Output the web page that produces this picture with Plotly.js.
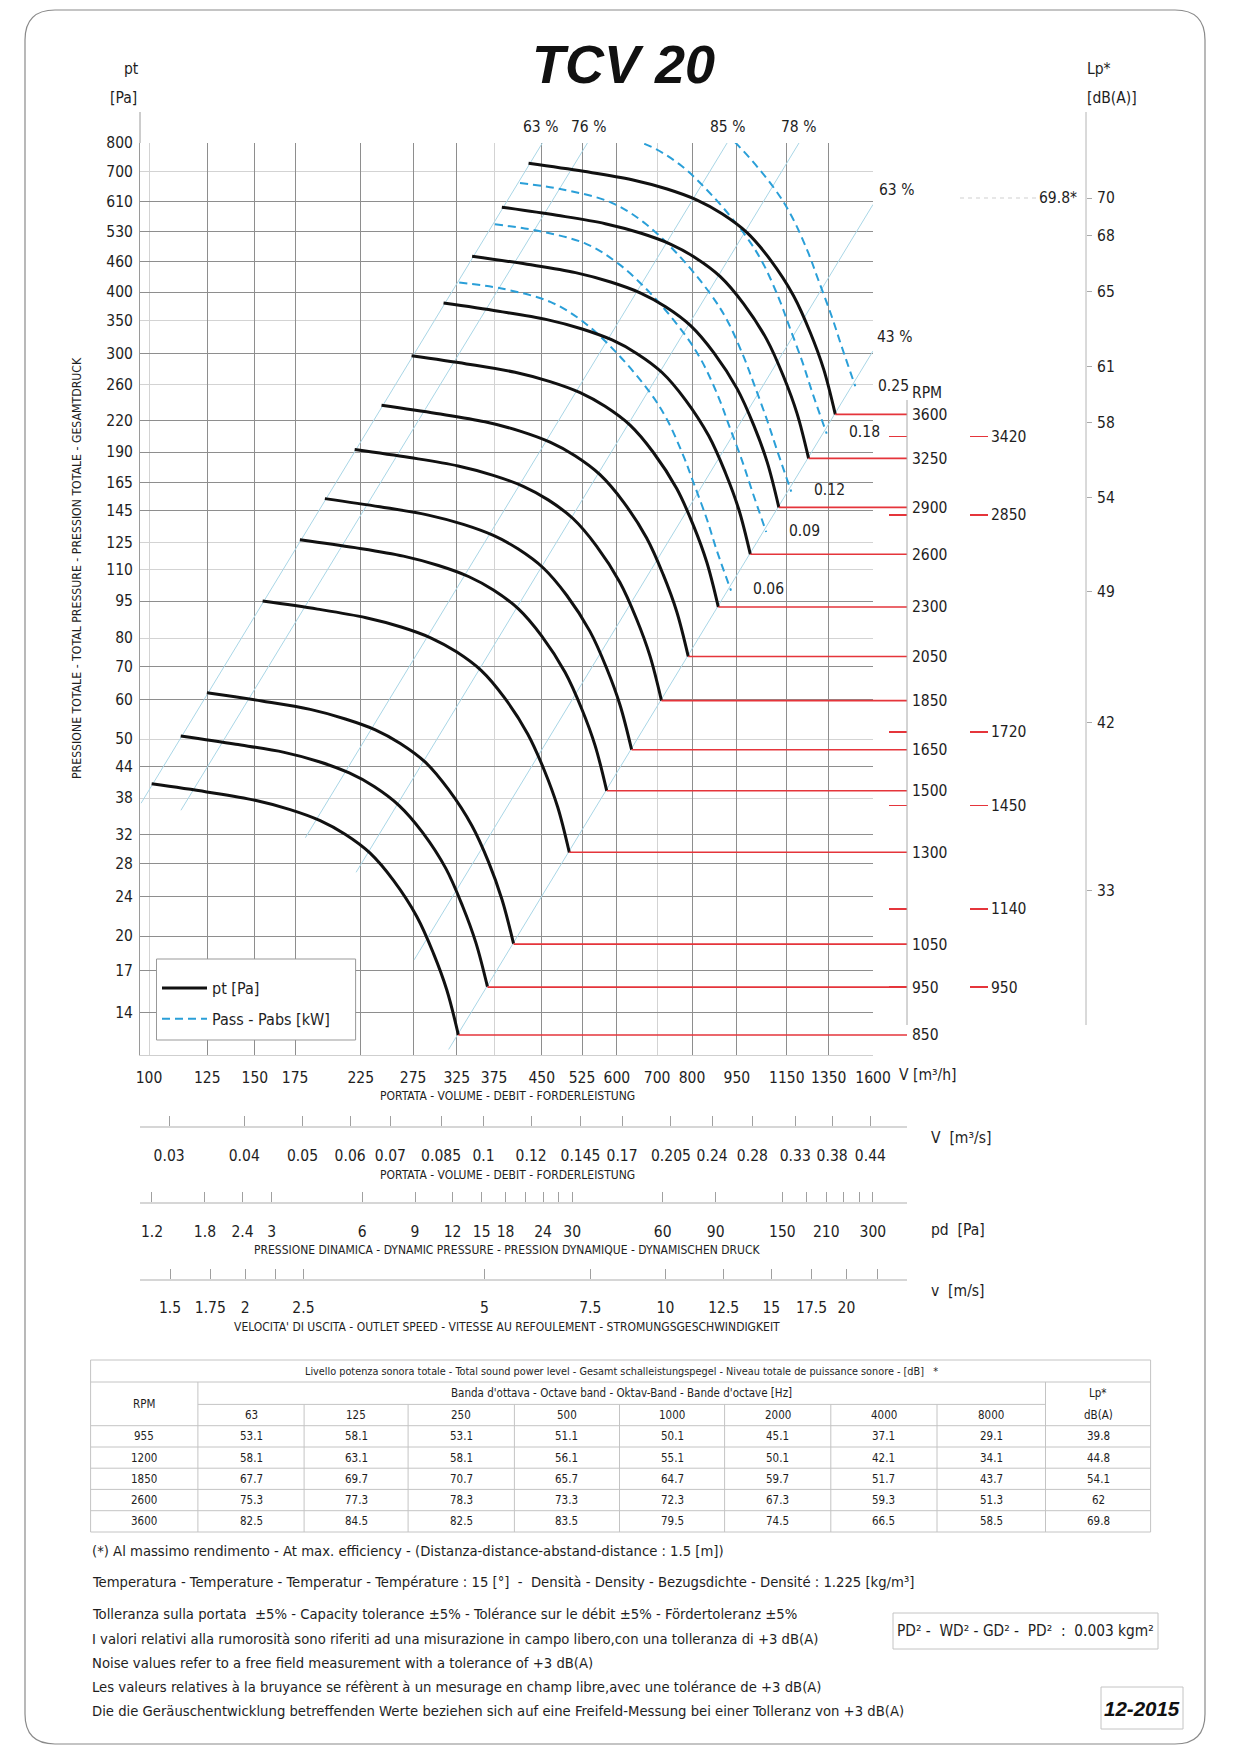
<!DOCTYPE html>
<html><head><meta charset="utf-8">
<script src="https://cdn.plot.ly/plotly-3.0.1.min.js"></script>
<style>html,body{margin:0;padding:0;background:#fff}#chart{width:1240px;height:1754px}</style>
</head><body><div id="chart"></div>
<script>
// ---------------- DATA ----------------
const xTicksV = [100,125,150,175,225,275,325,375,450,525,600,700,800,950,1150,1350,1600];
const xDarkV  = [125,150,175,225,275,325,450,525,600,800,950,1150,1350,1600];
const yTicksPt = [800,700,610,530,460,400,350,300,260,220,190,165,145,125,110,95,80,70,60,50,44,38,32,28,24,20,17,14];
const yDarkPt  = [610,530,460,400,300,220,190,165,145,95,70,60,44,32,28,24,20,17,14];

const rpmLevels = [850,950,1050,1300,1500,1650,1850,2050,2300,2600,2900,3250,3600];
const rpmMarks  = [3420,2850,1720,1450,1140,950];

const v850  = [101,124.7,150.1,171.7,192.6,211.9,233.2,255.0,278.8,297.2,312.8,327.0];
const pt850 = [40.6,39.1,37.6,36.0,34.2,32.1,29.4,25.9,21.9,18.45,15.56,12.62];
const v950  = [112.9,139.4,167.8,191.9,215.3,236.8,260.6,285.0,311.6,332.2,349.6,365.5];
const pt950 = [50.7,48.8,47.0,45.0,42.7,40.1,36.7,32.4,27.4,23.0,19.4,15.8];
const v1050  = [124.8,154.0,185.4,212.1,237.9,261.8,288.1,315.0,344.4,367.1,386.4,403.9];
const pt1050 = [62.0,59.7,57.4,54.9,52.2,49.0,44.9,39.5,33.4,28.2,23.7,19.3];
const v1300  = [154.5,190.7,229.6,262.6,294.6,324.1,356.7,390.0,426.4,454.5,478.4,500.1];
const pt1300 = [95.0,91.5,87.9,84.2,80.0,75.1,68.8,60.6,51.2,43.2,36.4,29.5];
const v1500  = [178.2,220.1,264.9,303.0,339.9,373.9,411.5,450.0,492.0,524.5,552.0,577.1];
const pt1500 = [126.4,121.8,117.1,112.1,106.5,100.0,91.6,80.7,68.2,57.5,48.5,39.3];
const v1650  = [196.1,242.1,291.4,333.3,373.9,411.3,452.7,495.0,541.2,576.9,607.2,634.8];
const pt1650 = [153.0,147.3,141.7,135.7,128.9,121.0,110.8,97.6,82.5,69.5,58.6,47.6];
const v1850  = [219.8,271.4,326.7,373.7,419.2,461.2,507.6,555.0,606.8,646.9,680.8,711.7];
const pt1850 = [192.3,185.2,178.1,170.5,162.0,152.1,139.3,122.7,103.7,87.4,73.7,59.8];
const v2050  = [243.6,300.7,362.0,414.1,464.5,511.1,562.4,615.0,672.4,716.8,754.4,788.6];
const pt2050 = [236.2,227.4,218.7,209.4,198.9,186.7,171.0,150.7,127.4,107.3,90.5,73.4];
const v2300  = [273.3,337.4,406.2,464.6,521.2,573.4,631.0,690.0,754.4,804.2,846.4,884.8];
const pt2300 = [297.3,286.3,275.3,263.6,250.4,235.0,215.3,189.6,160.3,135.1,113.9,92.4];
const v2600  = [308.9,381.4,459.1,525.2,589.1,648.2,713.3,780.0,852.8,909.1,956.8,1000.2];
const pt2600 = [379.9,365.8,351.8,336.8,320.0,300.3,275.1,242.3,204.9,172.6,145.6,118.1];
const v2900  = [344.6,425.4,512.1,585.8,657.1,723.0,795.6,870.0,951.2,1014.0,1067.2,1115.6];
const pt2900 = [472.6,455.1,437.7,419.0,398.1,373.6,342.2,301.5,254.9,214.8,181.1,146.9];
const v3250  = [386.2,476.8,573.9,656.5,736.4,810.2,891.6,975.0,1066.0,1136.4,1196.0,1250.3];
const pt3250 = [593.5,571.6,549.7,526.3,500.0,469.3,429.8,378.6,320.2,269.7,227.5,184.5];
const v3600  = [427.8,528.1,635.7,727.2,815.7,897.5,987.7,1080.0,1180.8,1258.7,1324.8,1384.9];
const pt3600 = [728.3,701.4,674.5,645.8,613.5,575.8,527.4,464.6,392.8,331.0,279.1,226.4];

const powLabels = ['0.06','0.09','0.12','0.18','0.25'];
const pow006V  = [328,384,465,528,600,682,727,775,805,847,880,929];
const pow006Pt = [418,407,382,348,301,250,221,186,164.5,139,120,99.7];
const pow009V  = [376,439,532,604,687,780,832,887,921,970,1008,1063];
const pow009Pt = [548,533,501,456,394,327,289,244,215.6,182,158,131];
const pow012V  = [414,483,586,665,756,859,916,976,1014,1067,1109,1170];
const pow012Pt = [664,646,607,553,478,396,350,295,261,220,191,158];
const pow018V  = [474,553,670,762,865,983,1048,1117,1160,1222,1269,1340];
const pow018Pt = [870,846,795,725,626,519,459,387,342,288,250,207];
const pow025V  = [528,618,748,850,966,1097,1170,1247,1295,1364,1417,1495];
const pow025Pt = [1083,1054,990,902,779,647,571,482,426,359,312,258];

const effLabels = ['63 %','76 %','85 %','78 %','63 %','43 %'];
const effAV = [97,451],  effAPt = [37.1,800];
const effBV = [113,536], effBPt = [35.9,800];
const effCV = [182,915], effCPt = [31.6,800];
const effDV = [221,1205],effDPt = [26.9,800];
const effEV = [276,1600],effEPt = [17.9,601];
const effFV = [315,1600],effFPt = [11.8,304];

const m3sTicks = [0.03,0.04,0.05,0.06,0.07,0.085,0.1,0.12,0.145,0.17,0.205,0.24,0.28,0.33,0.38,0.44];
const pdTicks  = [1.2,1.8,2.4,3,6,9,12,15,18,21,24,27,30,60,90,150,180,210,240,270,300];
const pdLabels = ['1.2','1.8','2.4','3','6','9','12','15','18','','24','','30','60','90','150','','210','','','300'];
const vTicks   = [1.5,1.75,2,2.25,2.5,5,7.5,10,12.5,15,17.5,20,22.5];
const vLabels  = ['1.5','1.75','2','','2.5','5','7.5','10','12.5','15','17.5','20',''];
const lpTicks  = [70,68,65,61,58,54,49,42,33];
const lpMaxEff = 69.8;

const outletArea = 0.02007;  // m2
const airDensity = 1.225;    // kg/m3

const tableRpm = [955,1200,1850,2600,3600];
const octaveBands = ['63','125','250','500','1000','2000','4000','8000'];
const band63   = [53.1,58.1,67.7,75.3,82.5];
const band125  = [58.1,63.1,69.7,77.3,84.5];
const band250  = [53.1,58.1,70.7,78.3,82.5];
const band500  = [51.1,56.1,65.7,73.3,83.5];
const band1000 = [50.1,55.1,64.7,72.3,79.5];
const band2000 = [45.1,50.1,59.7,67.3,74.5];
const band4000 = [37.1,42.1,51.7,59.3,66.5];
const band8000 = [29.1,34.1,43.7,51.3,58.5];
const lpTable  = [39.8,44.8,54.1,62,69.8];

// ---------------- LAYOUT GEOMETRY ----------------
const W = 1240, H = 1754;
const X = p => p / W, Y = p => 1 - p / H;
const plotL = 140, plotR = 873, rpmAxisX = 907, plotT = 143, plotB = 1055;
const FONT = "'DejaVu Sans Condensed','Liberation Sans Narrow','Arial Narrow','Liberation Sans',sans-serif";
const RED = '#e5353b', GRID_DARK = '#8e8e8e', GRID_LIGHT = '#d3d3d3', DIAG = '#a9d6e6', DASH = '#2a9fd8';
const TS = 15.5; // tick label size

const xMin = Math.log10(96.6), xMax = Math.log10(1600);
const yMin = Math.log10(11.5), yMax = Math.log10(800);
const x6Max = xMin + (xMax - xMin) * (rpmAxisX - plotL) / (plotR - plotL);
const logC = Math.log10(pt3600[pt3600.length - 1] / (3600 * 3600));
const y6Range = [(yMin - logC) / 2, (yMax - logC) / 2];
const lV = Math.log10(3600 * outletArea);
const m3sRange = [xMin - Math.log10(3600), x6Max - Math.log10(3600)];
const vRange = [xMin - lV, x6Max - lV];
const pdRange = [Math.log10(airDensity / 2) + 2 * vRange[0], Math.log10(airDensity / 2) + 2 * vRange[1]];
const lpRange = [24.24, 72.94];

// ---------------- TRACES ----------------
const traces = [];
[[effAV,effAPt],[effBV,effBPt],[effCV,effCPt],[effDV,effDPt],[effEV,effEPt],[effFV,effFPt]].forEach(([v,p]) => {
  traces.push({type:'scatter', mode:'lines', x:v, y:p, xaxis:'x', yaxis:'y', line:{color:DIAG, width:1}, showlegend:false, hoverinfo:'skip'});
});
[[pow006V,pow006Pt],[pow009V,pow009Pt],[pow012V,pow012Pt],[pow018V,pow018Pt],[pow025V,pow025Pt]].forEach(([v,p],i) => {
  traces.push({type:'scatter', mode:'lines', x:v, y:p, xaxis:'x', yaxis:'y',
    line:{color:DASH, width:2, dash:'8px,5px', shape:'spline', smoothing:1},
    name:'Pass - Pabs [kW]', legendgroup:'b', legendrank:2, showlegend:i===0, hoverinfo:'skip'});
});
const curves = [[850,v850,pt850],[950,v950,pt950],[1050,v1050,pt1050],[1300,v1300,pt1300],[1500,v1500,pt1500],
  [1650,v1650,pt1650],[1850,v1850,pt1850],[2050,v2050,pt2050],[2300,v2300,pt2300],[2600,v2600,pt2600],
  [2900,v2900,pt2900],[3250,v3250,pt3250],[3600,v3600,pt3600]];
curves.forEach(([n,v,p],i) => {
  traces.push({type:'scatter', mode:'lines', x:v, y:p, xaxis:'x', yaxis:'y',
    line:{color:'#111', width:3, shape:'spline', smoothing:1},
    name:'pt [Pa]', legendgroup:'a', legendrank:1, showlegend:i===0, hoverinfo:'skip'});
});
const vRight = Math.pow(10, x6Max);
curves.forEach(([n,v,p]) => {
  traces.push({type:'scatter', mode:'lines', x:[v[v.length-1], vRight], y:[n,n], xaxis:'x6', yaxis:'y6',
    line:{color:RED, width:1.6}, showlegend:false, hoverinfo:'skip'});
});
const dummy = (xa, ya, xv, yv) => ({type:'scatter', mode:'markers', x:[xv], y:[yv], xaxis:xa, yaxis:ya,
  marker:{opacity:0, size:1}, showlegend:false, hoverinfo:'skip'});
traces.push(dummy('x7','y', 200, 100), dummy('x','y10', 200, 100),
  dummy('x2','y6', 0.1, 2000), dummy('x3','y6', 10, 2000), dummy('x4','y6', 5, 2000),
  dummy('x5','y6', 0.1, 2000), dummy('x8','y6', 10, 2000), dummy('x9','y6', 5, 2000),
  dummy('x6','y7', 500, 2000), dummy('x6','y8', 500, 2000), dummy('x6','y9', 500, 50));

// ---------------- AXES ----------------
const tf = (s) => ({size:s, color:'#1e1e1e', family:FONT});
// secondary scales: one axis draws the line + upward ticks, an overlaid one carries the labels lower down
const secLine = (pos, range, vals) => ({type:'log', overlaying:'x6', anchor:'free', position:Y(pos), side:'bottom', range:range,
    tickmode:'array', tickvals:vals, ticks:'inside', ticklen:10, tickcolor:'#a0a0a0', showticklabels:false,
    showgrid:false, showline:true, linecolor:'#d6d6d6', linewidth:2, zeroline:false});
const secLab = (pos, range, vals, text) => ({type:'log', overlaying:'x6', anchor:'free', position:Y(pos), side:'bottom', range:range,
    tickmode:'array', tickvals:vals, ticktext:text, tickangle:0, ticks:'', tickfont:tf(TS), ticklabelstandoff:11.5,
    showgrid:false, showline:false, zeroline:false});
const layout = {
  width:W, height:H, margin:{l:0,r:0,t:0,b:0}, paper_bgcolor:'#fff', plot_bgcolor:'rgba(0,0,0,0)',
  font:{family:FONT, color:'#1e1e1e'}, hovermode:false,
  xaxis:{type:'log', domain:[X(plotL),X(plotR)], range:[xMin,xMax], anchor:'y',
    tickmode:'array', tickvals:xTicksV, ticktext:xTicksV.map(String), tickangle:0, ticks:'', tickfont:tf(TS), ticklabelstandoff:8,
    showgrid:true, gridcolor:GRID_LIGHT, gridwidth:1, showline:true, linecolor:'#cfcfcf', linewidth:1, zeroline:false},
  xaxis7:{type:'log', overlaying:'x', anchor:'y', range:[xMin,xMax], tickmode:'array', tickvals:xDarkV,
    showticklabels:false, ticks:'', showgrid:true, gridcolor:GRID_DARK, gridwidth:1, showline:false, zeroline:false},
  yaxis:{type:'log', domain:[Y(plotB),Y(plotT)], range:[yMin,yMax], anchor:'x',
    tickmode:'array', tickvals:yTicksPt, ticktext:yTicksPt.map(String), ticks:'', tickfont:tf(TS), ticklabelstandoff:3,
    showgrid:true, gridcolor:GRID_LIGHT, gridwidth:1, showline:true, linecolor:'#9a9a9a', linewidth:1, zeroline:false},
  yaxis10:{type:'log', overlaying:'y', anchor:'x', range:[yMin,yMax], tickmode:'array', tickvals:yDarkPt,
    showticklabels:false, ticks:'', showgrid:true, gridcolor:GRID_DARK, gridwidth:1, showline:false, zeroline:false},
  xaxis6:{type:'log', domain:[X(plotL),X(rpmAxisX)], range:[xMin,x6Max], anchor:'y6',
    showticklabels:false, ticks:'', showgrid:false, showline:false, zeroline:false},
  yaxis6:{type:'log', domain:[Y(plotB),Y(plotT)], range:y6Range, anchor:'x6', side:'right',
    tickmode:'array', tickvals:rpmLevels, ticktext:rpmLevels.map(String), ticks:'', tickfont:tf(TS), ticklabelstandoff:4,
    showgrid:false, showline:false, zeroline:false},
  yaxis7:{type:'log', overlaying:'y6', anchor:'free', position:X(988), side:'right', range:y6Range,
    tickmode:'array', tickvals:rpmMarks, ticktext:rpmMarks.map(String), ticks:'inside', ticklen:18, tickwidth:1.6, tickcolor:RED,
    tickfont:tf(TS), ticklabelstandoff:2, showgrid:false, showline:false, zeroline:false},
  yaxis8:{type:'log', overlaying:'y6', anchor:'free', position:X(907), side:'right', range:y6Range,
    tickmode:'array', tickvals:rpmMarks, ticks:'inside', ticklen:18, tickwidth:1.6, tickcolor:RED,
    showticklabels:false, showgrid:false, showline:false, zeroline:false},
  yaxis9:{type:'linear', overlaying:'y6', anchor:'free', position:X(1086), side:'right', range:lpRange,
    tickmode:'array', tickvals:lpTicks, ticktext:lpTicks.map(String), ticks:'outside', ticklen:5, tickcolor:'#aaa',
    tickfont:tf(TS), ticklabelstandoff:2, showgrid:false, showline:false, zeroline:false},
  xaxis2: secLine(1127, m3sRange, m3sTicks),
  xaxis5: secLab(1144, m3sRange, m3sTicks, m3sTicks.map(String)),
  xaxis3: secLine(1203, pdRange, pdTicks),
  xaxis8: secLab(1220, pdRange, pdTicks, pdLabels),
  xaxis4: secLine(1280, vRange, vTicks),
  xaxis9: secLab(1296, vRange, vTicks, vLabels),
  showlegend:true,
  legend:{x:X(157), y:Y(971), xanchor:'left', yanchor:'top', bgcolor:'rgba(0,0,0,0)', borderwidth:0,
    font:{size:16, family:FONT, color:'#1e1e1e'}, traceorder:'grouped', tracegroupgap:7, itemwidth:45},
  shapes:[], annotations:[]
};

// ---------------- SHAPES ----------------
const S = layout.shapes;
const line = (x0,y0,x1,y1,color,width,dash) => S.push({type:'line', xref:'paper', yref:'paper', x0:X(x0), y0:Y(y0), x1:X(x1), y1:Y(y1),
  line:{color:color, width:width||1, dash:dash||'solid'}, layer:'above'});
line(plotL,112,plotL,plotT,'#9a9a9a',1);
line(rpmAxisX,400,rpmAxisX,1025,'#a8a8a8',1);
line(1086,112,1086,1025,'#b4b4b4',1);
line(960,198,1037,198,'#cfcfcf',1,'4px,4px');
// legend frame
S.push({type:'rect', xref:'paper', yref:'paper', x0:X(156.5), y0:Y(959), x1:X(355.6), y1:Y(1040),
  fillcolor:'#fff', line:{color:'#999', width:1}, layer:'above'});
// table grid
const tT=1360, tR1=1382, tR2=1404.4, tR3=1425.7, tRows=[1447,1468.2,1489.4,1510.7], tB=1532;
const cL=90.6, cR=1150.6, cols=[197.9,304.1,408.1,514.4,619.5,724.6,830.8,937,1045.5];
const TL='#c4c4c4';
[tT,tR1,tR3,...tRows,tB].forEach(y=>line(cL,y,cR,y,TL,1));
line(cols[0],tR2,cols[8],tR2,TL,1);
line(cL,tT,cL,tB,TL,1); line(cR,tT,cR,tB,TL,1);
line(cols[0],tR1,cols[0],tB,TL,1); line(cols[8],tR1,cols[8],tB,TL,1);
cols.slice(1,8).forEach(x=>line(x,tR2,x,tB,TL,1));
// boxes
S.push({type:'rect', xref:'paper', yref:'paper', x0:X(893), y0:Y(1613), x1:X(1158), y1:Y(1649), line:{color:'#c4c4c4', width:1}});
S.push({type:'rect', xref:'paper', yref:'paper', x0:X(1101), y0:Y(1687), x1:X(1183), y1:Y(1729), line:{color:'#c4c4c4', width:1}});
// page frame (rounded)
(function(){
  const x0=X(25), x1=X(1205), yT=Y(10), yB=Y(1744), rx=30/W, ry=30/H;
  const p = `M ${x0+rx},${yT} L ${x1-rx},${yT} Q ${x1},${yT} ${x1},${yT-ry} L ${x1},${yB+ry} Q ${x1},${yB} ${x1-rx},${yB} ` +
            `L ${x0+rx},${yB} Q ${x0},${yB} ${x0},${yB+ry} L ${x0},${yT-ry} Q ${x0},${yT} ${x0+rx},${yT} Z`;
  S.push({type:'path', xref:'paper', yref:'paper', path:p, line:{color:'#8a8a8a', width:1.2}});
})();

// ---------------- ANNOTATIONS ----------------
const A = layout.annotations;
const txt = (text, x, y, size, opt) => A.push(Object.assign({text:text, xref:'paper', yref:'paper', x:X(x), y:Y(y),
  showarrow:false, xanchor:'center', yanchor:'middle', font:{size:size, family:FONT, color:'#1e1e1e'}, borderpad:0}, opt||{}));
txt('TCV 20', 623, 64, 54, {font:{size:54, family:"'Liberation Sans',Arial,sans-serif", color:'#111', weight:'bold', style:'italic'}});
txt('pt', 131, 69, TS); txt('[Pa]', 123, 98, TS);
txt('Lp*', 1099, 69, TS); txt('[dB(A)]', 1112, 98, TS);
txt('PRESSIONE TOTALE - TOTAL PRESSURE - PRESSION TOTALE - GESAMTDRUCK', 77, 568, 12.2, {textangle:-90});
// efficiency labels
txt(effLabels[0], 540, 127, TS); txt(effLabels[1], 588, 127, TS); txt(effLabels[2], 727, 127, TS); txt(effLabels[3], 798, 127, TS);
txt(effLabels[4], 878, 190, TS, {xanchor:'left'}); txt(effLabels[5], 876, 337, TS, {xanchor:'left'});
// power labels
txt(powLabels[4], 893, 386, TS); txt(powLabels[3], 864, 432, TS); txt(powLabels[2], 829, 490, TS);
txt(powLabels[1], 804, 531, TS); txt(powLabels[0], 768, 589, TS);
txt('RPM', 911, 393, TS, {xanchor:'left'});
txt(lpMaxEff.toFixed(1) + '*', 1078, 198, TS, {xanchor:'right'});
// axis captions
txt('V [m³/h]', 898, 1075, TS, {xanchor:'left'});
txt('PORTATA - VOLUME - DEBIT - FORDERLEISTUNG', 507, 1096, 12);
txt('V  [m³/s]', 930, 1138, TS, {xanchor:'left'});
txt('PORTATA - VOLUME - DEBIT - FORDERLEISTUNG', 507, 1175, 12);
txt('pd  [Pa]', 930, 1230, TS, {xanchor:'left'});
txt('PRESSIONE DINAMICA - DYNAMIC PRESSURE - PRESSION DYNAMIQUE - DYNAMISCHEN DRUCK', 507, 1250, 12);
txt('v  [m/s]', 930, 1291, TS, {xanchor:'left'});
txt("VELOCITA' DI USCITA - OUTLET SPEED - VITESSE AU REFOULEMENT - STROMUNGSGESCHWINDIGKEIT", 507, 1327, 12);
// table text
const TF = 11.5;
txt('Livello potenza sonora totale - Total sound power level - Gesamt schalleistungspegel - Niveau totale de puissance sonore - [dB]   *', 621, 1371, 10.8);
txt('RPM', (cL+cols[0])/2, 1404, TF);
txt("Banda d'ottava - Octave band - Oktav-Band - Bande d'octave [Hz]", (cols[0]+cols[8])/2, 1393, TF);
txt('Lp*', (cols[8]+cR)/2, 1393, TF); txt('dB(A)', (cols[8]+cR)/2, 1415, TF);
octaveBands.forEach((b,i)=>txt(b, (cols[i]+cols[i+1])/2, 1415, TF));
const bandCols = [band63,band125,band250,band500,band1000,band2000,band4000,band8000];
const rowY = [1436.3,1457.6,1478.8,1500,1521.3];
tableRpm.forEach((r,j)=>{
  txt(String(r), (cL+cols[0])/2, rowY[j], TF);
  bandCols.forEach((arr,i)=>txt(String(arr[j]), (cols[i]+cols[i+1])/2, rowY[j], TF));
  txt(String(lpTable[j]), (cols[8]+cR)/2, rowY[j], TF);
});
// notes
const notes = [
  ['(*) Al massimo rendimento - At max. efficiency - (Distanza-distance-abstand-distance : 1.5 [m])', 1550],
  ['Temperatura - Temperature - Temperatur - Température : 15 [°]  -  Densità - Density - Bezugsdichte - Densité : 1.225 [kg/m³]', 1581],
  ['Tolleranza sulla portata  ±5% - Capacity tolerance ±5% - Tolérance sur le débit ±5% - Fördertoleranz ±5%', 1613],
  ['I valori relativi alla rumorosità sono riferiti ad una misurazione in campo libero,con una tolleranza di +3 dB(A)', 1638],
  ['Noise values refer to a free field measurement with a tolerance of +3 dB(A)', 1662],
  ['Les valeurs relatives à la bruyance se réfèrent à un mesurage en champ libre,avec une tolérance de +3 dB(A)', 1686],
  ['Die die Geräuschentwicklung betreffenden Werte beziehen sich auf eine Freifeld-Messung bei einer Tolleranz von +3 dB(A)', 1710]
];
notes.forEach(([t,y])=>txt(t, 91, y, 14.7, {xanchor:'left'}));
txt('PD² -  WD² - GD² -  PD²  :  0.003 kgm²', 1025, 1631, 15.3);
txt('12-2015', 1142, 1708, 20.5, {font:{size:20.5, family:"'Liberation Sans',Arial,sans-serif", color:'#111', weight:'bold', style:'italic'}});

Plotly.newPlot('chart', traces, layout, {staticPlot:true, displayModeBar:false});
</script></body></html>
